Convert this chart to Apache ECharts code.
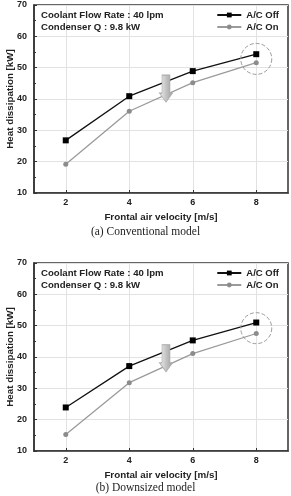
<!DOCTYPE html>
<html><head><meta charset="utf-8">
<script src="https://cdn.jsdelivr.net/npm/echarts@6/dist/echarts.min.js"></script>
<style>html,body{margin:0;padding:0;background:#fff}#c{width:291px;height:496px}</style>
</head><body><div id="c"></div>
<script>
const xCats = ['1','2','3','4','5','6','7','8','9'];
const velocities = ['2','4','6','8'];
const yTicks = {min:10, max:70, interval:10};
const convOff = [26.8, 40.9, 48.9, 54.3];
const convOn = [19.2, 36.1, 45.2, 51.6];
const downOff = [23.9, 37.1, 45.3, 51.0];
const downOn = [15.3, 31.8, 41.1, 47.5];
const captions = ['(a) Conventional model', '(b) Downsized model'];
const infoLines = ['Coolant Flow Rate : 40 lpm', 'Condenser Q : 9.8 kW'];
const circleY = [52.8, 49.2];
const arrowY = [43.3, 39.6];

const font = 'Liberation Sans, Arial, sans-serif';
const chart = echarts.init(document.getElementById('c'));
const tops = [5, 263];
const grids = tops.map(t => ({left:34, top:t, width:254, height:188, show:true, borderColor:'#333', borderWidth:1.5, backgroundColor:'#fff', containLabel:false, outerBoundsMode:'none'}));
const xAxes = tops.map((t,i) => ({
  type:'category', gridIndex:i, data:xCats, boundaryGap:false,
  axisLine:{show:true, lineStyle:{color:'#333', width:1.5}},
  axisTick:{show:true, inside:true, length:3, interval:(idx)=>idx%2===1, lineStyle:{color:'#333'}},
  axisLabel:{interval:(idx)=>idx%2===1, color:'#222', fontWeight:'bold', fontSize:9, fontFamily:font, margin:5},
  splitLine:{show:true, interval:(idx)=>idx%2===1, lineStyle:{color:'#e2e2e2', width:1}},
  name:'Frontal air velocity [m/s]', nameLocation:'middle', nameGap:19,
  nameTextStyle:{color:'#222', fontWeight:'bold', fontSize:9.8, fontFamily:font}
}));
const yAxes = tops.map((t,i) => ({
  type:'value', gridIndex:i, min:yTicks.min, max:yTicks.max, interval:yTicks.interval,
  axisLine:{show:true, lineStyle:{color:'#333', width:1.5}},
  axisTick:{show:true, inside:true, length:3, lineStyle:{color:'#333'}},
  minorTick:{show:true, splitNumber:2, length:2, lineStyle:{color:'#333'}},
  axisLabel:{color:'#222', fontWeight:'bold', fontSize:9, fontFamily:font, margin:7},
  splitLine:{show:true, lineStyle:{color:'#e2e2e2', width:1}},
  name:'Heat dissipation [kW]', nameLocation:'middle', nameGap:19, nameRotate:90, nameMoveOverlap:false,
  nameTextStyle:{color:'#222', fontWeight:'bold', fontSize:9.8, fontFamily:font}
}));
const arrowPath = 'path://M2,0 L10,0 L10,18 L12.5,18 L6,27 L-0.5,18 L2,18 Z';
function mk(name, vals, i, off) {
  const s = {
    name, type:'line', xAxisIndex:i, yAxisIndex:i,
    data: velocities.map((v,k)=>[v, vals[k]]),
    symbol: off ? 'rect' : 'circle', symbolSize: off ? 6 : 5,
    lineStyle:{color: off ? '#111' : '#9a9a9a', width:1.3},
    itemStyle:{color: off ? '#000' : '#8c8c8c'},
    emphasis:{disabled:true}, animation:false, z: off ? 3 : 2
  };
  if (off) {
    s.markPoint = {
      silent:true, label:{show:false}, animation:false,
      data:[
        {coord:['8', circleY[i]], symbol:'circle', symbolSize:31,
         itemStyle:{color:'rgba(0,0,0,0)', borderColor:'#9a9a9a', borderType:'dashed', borderWidth:1}},
        {coord:['5', arrowY[i]], symbol:arrowPath, symbolSize:[13,27], symbolKeepAspect:false, symbolOffset:[5,0],
         itemStyle:{color:{type:'linear',x:0,y:0,x2:1,y2:0,colorStops:[{offset:0,color:'#f2f2f2'},{offset:0.5,color:'#c4c4c4'},{offset:1,color:'#a0a0a0'}]}, borderColor:'#aaa', borderWidth:0.8}}
      ]
    };
  }
  return s;
}
const series = [
  mk('A/C Off', convOff, 0, true), mk('A/C On', convOn, 0, false),
  mk('A/C Off', downOff, 1, true), mk('A/C On', downOn, 1, false)
];
const legends = tops.map(t => ({
  orient:'vertical', right:12, top:t+5, itemWidth:24, itemHeight:6, itemGap:2,
  data:['A/C Off','A/C On'], padding:0,
  textStyle:{color:'#222', fontWeight:'bold', fontSize:9.5, fontFamily:font},
  selectedMode:false
}));
const graphic = [];
tops.forEach((t,i) => {
  infoLines.forEach((ln,k) => graphic.push({type:'text', left:41, top:t+5+k*12, z:10,
    style:{text:ln, fill:'#222', font:'bold 9.6px '+font}}));
  graphic.push({type:'text', left:'center', top: (i===0?226:482), z:10,
    style:{text:captions[i], fill:'#222', font:'11.5px Liberation Serif, Times New Roman, serif'}});
});
chart.setOption({animation:false, grid:grids, xAxis:xAxes, yAxis:yAxes, series, legend:legends, graphic});
</script></body></html>
